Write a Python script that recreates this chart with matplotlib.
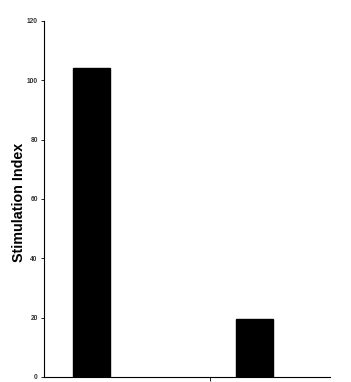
import matplotlib
matplotlib.use("Agg")
import matplotlib.pyplot as plt

plt.rcParams["font.family"] = ["Liberation Sans", "DejaVu Sans"]

# values
groups = [0, 1]
stim_index = [104, 19.5]
y_ticks = [0, 20, 40, 60, 80, 100, 120]

fig = plt.figure(figsize=(3.51, 3.82), dpi=100)
ax = fig.add_axes([0.1254, 0.0131, 0.815, 0.932])

ax.bar(groups, stim_index, width=0.225, color="black", edgecolor="black")

ax.set_xlim(-0.288, 1.46)
ax.set_ylim(0, 120)
ax.set_yticks(y_ticks)
ax.set_yticklabels([str(t) for t in y_ticks], fontsize=4.8, fontweight="bold",
                   color="#333333")
ax.set_xticks([0.724])
ax.set_xticklabels([""])
ax.tick_params(axis="y", direction="out", length=2.5, width=0.6, pad=2)
ax.tick_params(axis="x", direction="out", length=3, width=0.6)

for side in ["top", "right"]:
    ax.spines[side].set_visible(False)
for side in ["left", "bottom"]:
    ax.spines[side].set_linewidth(0.8)

ax.set_ylabel("Stimulation Index", fontsize=10.3, fontweight="bold")
ax.yaxis.set_label_coords(-0.063, 0.489)

fig.savefig("out.png", dpi=100)
